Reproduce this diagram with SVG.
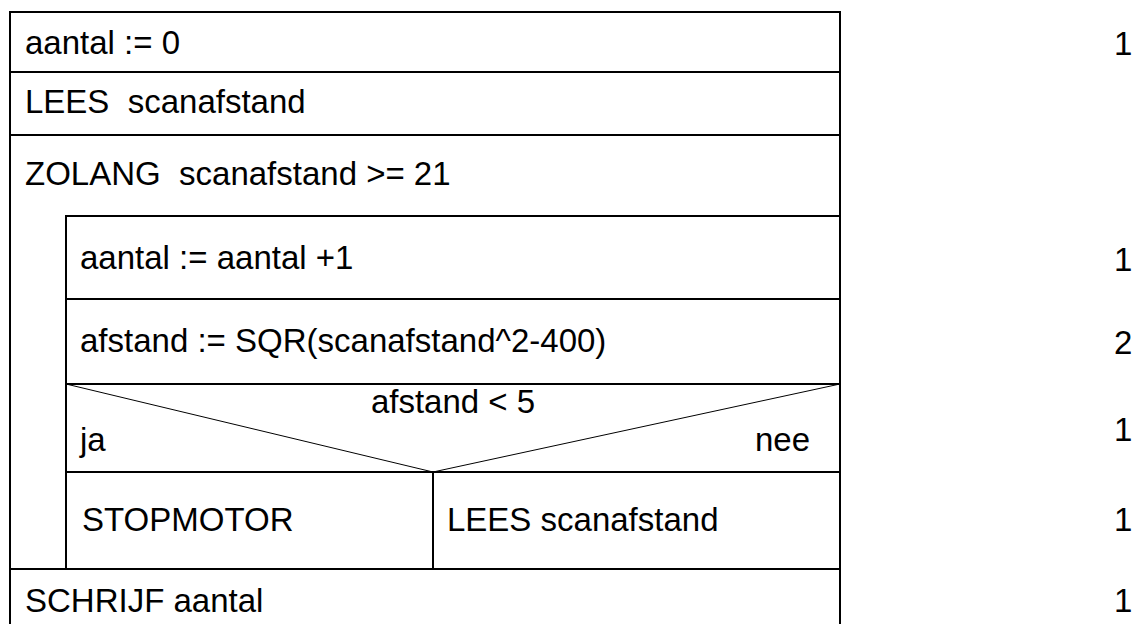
<svg xmlns="http://www.w3.org/2000/svg" width="1148" height="624" viewBox="0 0 1148 624">
<style>
text{font-family:"Liberation Sans",Arial,sans-serif;font-size:33px;fill:#000;white-space:pre}
.b{fill:none;stroke:#000;stroke-width:2}
.t{fill:none;stroke:#000;stroke-width:1}
</style>
<rect width="1148" height="624" fill="#fff"/>
<g id="outer">
<path class="b" d="M10,626 V12 H840 V626"/>
</g>
<g id="s1"><path class="b" d="M10,72 H840"/><text x="25" y="54">aantal := 0</text></g>
<g id="s2"><path class="b" d="M10,135 H840"/><text x="25" y="113">LEES  scanafstand</text></g>
<g id="loop"><text x="25" y="185">ZOLANG  scanafstand &gt;= 21</text>
<path class="b" d="M66,569 V216 H840"/></g>
<g id="s3"><path class="b" d="M66,299 H840"/><text x="80" y="269">aantal := aantal +1</text></g>
<g id="s4"><path class="b" d="M66,384 H840"/><text x="80" y="352">afstand := SQR(scanafstand^2-400)</text></g>
<g id="cond"><path class="t" d="M66,384 L433,472 L840,384"/>
<text x="453" y="413" text-anchor="middle">afstand &lt; 5</text>
<text x="80" y="451">ja</text><text x="810" y="451" text-anchor="end">nee</text>
<path class="b" d="M66,472 H840"/></g>
<g id="yes"><text x="82" y="531">STOPMOTOR</text></g>
<g id="no"><path class="b" d="M433,472 V569"/><text x="447" y="531">LEES scanafstand</text></g>
<g id="s5"><path class="b" d="M10,569 H840"/><text x="25" y="612">SCHRIJF aantal</text></g>
<g id="scores">
<text x="1114" y="55">1</text>
<text x="1114" y="271">1</text>
<text x="1114" y="354">2</text>
<text x="1114" y="441">1</text>
<text x="1114" y="531">1</text>
<text x="1114" y="612">1</text>
</g>
</svg>
